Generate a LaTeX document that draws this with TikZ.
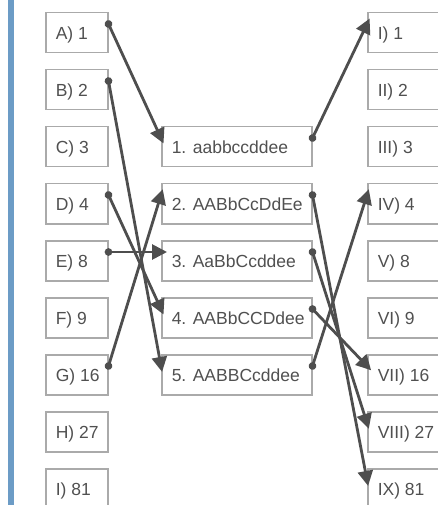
\documentclass[tikz,border=0pt]{standalone}
\usepackage{fontspec}
\setmainfont{Liberation Sans}
\usetikzlibrary{arrows.meta}
\definecolor{barclr}{RGB}{108,156,198}
\definecolor{boxclr}{RGB}{170,170,170}
\definecolor{txtclr}{RGB}{80,80,80}
\definecolor{lineclr}{RGB}{78,78,78}
\begin{document}
\begin{tikzpicture}[x=1bp,y=-1bp,
  box/.style={draw=boxclr, line width=1.5bp, anchor=north west, minimum height=40bp,
    inner xsep=10bp, inner ysep=0pt, text=txtclr, font=\fontsize{17.5bp}{20bp}\selectfont,
    text height=13bp, text depth=0pt, execute at end node={\hss\egroup}},
  lbox/.style={box, execute at begin node={\hbox to 42bp\bgroup}},
  mbox/.style={box, execute at begin node={\hbox to 130bp\bgroup}},
  rbox/.style={box, execute at begin node={\hbox to 70bp\bgroup}},
  link/.style={draw=lineclr, line width=2.8bp,
    {Circle[length=7.5bp]}-{Triangle[length=15bp,width=15bp]},
    shorten <=-3.75bp, shorten >=-6bp}
]
\useasboundingbox (0,0) rectangle (438,505);
\fill[barclr] (8,0) rectangle (14,505);

% left column
\node[lbox] (A) at (45,12)  {A) 1};
\node[lbox] (B) at (45,69)  {B) 2};
\node[lbox] (C) at (45,126) {C) 3};
\node[lbox] (D) at (45,183) {D) 4};
\node[lbox] (E) at (45,240) {E) 8};
\node[lbox] (F) at (45,297) {F) 9};
\node[lbox] (G) at (45,354) {G) 16};
\node[lbox] (H) at (45,411) {H) 27};
\node[lbox] (I) at (45,468) {I) 81};

% middle column
\node[mbox] (M1) at (161,126) {1. aabbccddee};
\node[mbox] (M2) at (161,183) {2. AABbCcDdEe};
\node[mbox] (M3) at (161,240) {3. AaBbCcddee};
\node[mbox] (M4) at (161,297) {4. AABbCCDdee};
\node[mbox] (M5) at (161,354) {5. AABBCcddee};

% right column
\node[rbox] (R1) at (367,12)  {I) 1};
\node[rbox] (R2) at (367,69)  {II) 2};
\node[rbox] (R3) at (367,126) {III) 3};
\node[rbox] (R4) at (367,183) {IV) 4};
\node[rbox] (R5) at (367,240) {V) 8};
\node[rbox] (R6) at (367,297) {VI) 9};
\node[rbox] (R7) at (367,354) {VII) 16};
\node[rbox] (R8) at (367,411) {VIII) 27};
\node[rbox] (R9) at (367,468) {IX) 81};

% left to middle
\draw[link] ([yshift=-12bp]A.north east) -- ([yshift=-12bp]M1.north west);
\draw[link] ([yshift=-12bp]B.north east) -- ([yshift=-12bp]M5.north west);
\draw[link] ([yshift=-12bp]D.north east) -- ([yshift=-12bp]M4.north west);
\draw[link] ([yshift=-12bp]E.north east) -- ([yshift=-12bp]M3.north west);
\draw[link] ([yshift=-12bp]G.north east) -- ([yshift=-12bp]M2.north west);

% middle to right
\draw[link] ([yshift=-12bp]M1.north east) -- ([yshift=-12bp]R1.north west);
\draw[link] ([yshift=-12bp]M2.north east) -- ([yshift=-12bp]R9.north west);
\draw[link] ([yshift=-12bp]M3.north east) -- ([yshift=-12bp]R8.north west);
\draw[link] ([yshift=-12bp]M4.north east) -- ([yshift=-12bp]R7.north west);
\draw[link] ([yshift=-12bp]M5.north east) -- ([yshift=-12bp]R4.north west);
\end{tikzpicture}
\end{document}
